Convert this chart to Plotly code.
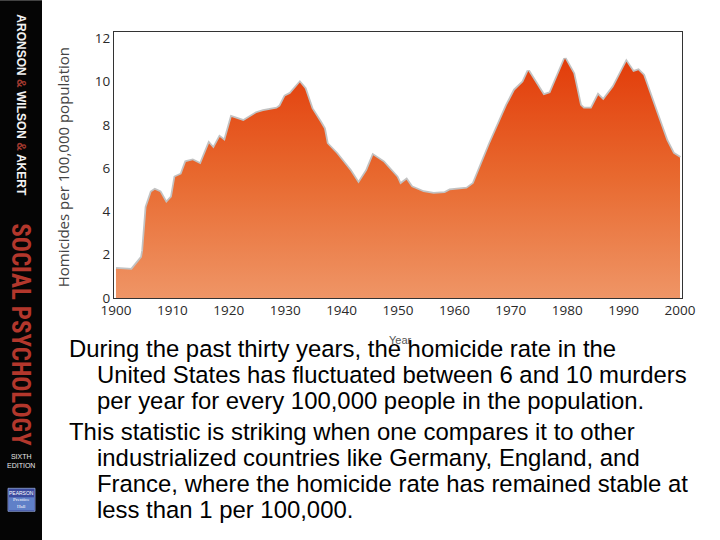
import plotly.graph_objects as go

# ---- data ----
years = [1900, 1902.8, 1904.6, 1904.8, 1905.4, 1906.3, 1906.9, 1907.8, 1908.9, 1909.9,
         1910.5, 1911.6, 1912.4, 1913.6, 1915.0, 1916.5, 1917.3, 1918.4, 1919.3, 1920.5,
         1922.6, 1924.9, 1926.1, 1928.5, 1929.1, 1930.0, 1930.9, 1931.7, 1932.6, 1933.5,
         1934.7, 1936.2, 1936.9, 1937.4, 1939.1, 1941.5, 1943.0, 1944.5, 1945.6, 1947.4,
         1949.8, 1950.4, 1951.5, 1952.4, 1954.5, 1956.3, 1958.3, 1959.2, 1962.2, 1963.4,
         1966.3, 1969.3, 1970.7, 1972.2, 1973.1, 1975.8, 1977.0, 1979.6, 1981.1, 1982.3,
         1982.9, 1984.3, 1985.5, 1986.4, 1988.2, 1990.5, 1991.7, 1992.6, 1993.5, 1995.9,
         1997.6, 1998.8, 2000]
rates = [1.35, 1.31, 1.89, 2.2, 4.2, 4.90, 5.01, 4.90, 4.39, 4.67,
         5.59, 5.72, 6.29, 6.37, 6.18, 7.14, 6.91, 7.44, 7.26, 8.37,
         8.19, 8.55, 8.65, 8.76, 8.87, 9.33, 9.45, 9.68, 9.96, 9.68,
         8.76, 8.14, 7.83, 7.14, 6.68, 5.90, 5.29, 5.90, 6.60, 6.29,
         5.59, 5.25, 5.47, 5.13, 4.90, 4.82, 4.85, 4.98, 5.06, 5.29,
         7.14, 8.91, 9.61, 9.99, 10.50, 9.38, 9.48, 11.07, 10.38, 8.91,
         8.76, 8.76, 9.38, 9.14, 9.76, 10.92, 10.45, 10.53, 10.30, 8.53,
         7.29, 6.68, 6.49]
x_ticks = [1900, 1910, 1920, 1930, 1940, 1950, 1960, 1970, 1980, 1990, 2000]
y_ticks = [0, 2, 4, 6, 8, 10, 12]

body_lines = [
    ("During the past thirty years, the homicide rate in the", False),
    ("United States has fluctuated between 6 and 10 murders", True),
    ("per year for every 100,000 people in the population.", True),
    ("This statistic is striking when one compares it to other", False),
    ("industrialized countries like Germany, England, and", True),
    ("France, where the homicide rate has remained stable at", True),
    ("less than 1 per 100,000.", True),
]

# ---- layout geometry (pixels) ----
W, H = 720, 540
L, R, T, B = 114, 682, 31.7, 297.7
PW, PH = R - L, B - T


def px(x):
    return (x - L) / PW


def py(y):
    return (B - y) / PH


fig = go.Figure()

# soft shadow along the top edge
fig.add_trace(go.Scatter(
    x=years, y=rates, mode="lines",
    line=dict(color="rgba(80,80,80,0.35)", width=3.5),
    hoverinfo="skip", showlegend=False))

fig.add_trace(go.Scatter(
    x=years, y=rates, mode="lines", fill="tozeroy",
    line=dict(width=0, color="rgba(0,0,0,0)"),
    fillgradient=dict(type="vertical", start=0, stop=11.2,
                      colorscale=[[0, "#EF9566"], [0.5, "#E8692F"], [1, "#E23B09"]]),
    showlegend=False))

tickfont = dict(family="Open Sans, Noto Sans, sans-serif", size=13.5, color="#2a2a2a")
fig.update_xaxes(range=[1899.65, 2000.35], tickvals=x_ticks, showgrid=False, zeroline=False,
                 showline=True, linecolor="#333333", linewidth=1.2, mirror=True,
                 ticks="", tickfont=tickfont)
fig.update_yaxes(range=[0, 12.3], tickvals=y_ticks, showgrid=False, zeroline=False,
                 showline=True, linecolor="#333333", linewidth=1.2, mirror=True,
                 ticks="", tickfont=tickfont)

shapes = []
# dark sidebar
shapes.append(dict(type="rect", xref="paper", yref="paper", layer="below",
                   x0=px(0), x1=px(42), y0=py(0), y1=py(H),
                   fillcolor="#050505", line=dict(width=0)))
# Pearson logo
shapes.append(dict(type="rect", xref="paper", yref="paper",
                   x0=px(8), x1=px(35), y0=py(511), y1=py(488),
                   fillcolor="#3c4a9e", line=dict(color="#8fa6d8", width=0.8)))
shapes.append(dict(type="rect", xref="paper", yref="paper",
                   x0=px(9), x1=px(34), y0=py(510), y1=py(497),
                   fillcolor="#5f80c8", line=dict(width=0)))

annotations = []
# axis titles
annotations.append(dict(text="Homicides per 100,000 population", textangle=-90,
                        xref="paper", yref="paper", x=px(63), y=py(167),
                        showarrow=False, xanchor="center", yanchor="middle",
                        font=dict(family="Open Sans, Noto Sans, sans-serif", size=15, color="#444444")))
annotations.append(dict(text="Year", xref="paper", yref="paper", x=px(400), y=py(340),
                        showarrow=False, xanchor="center", yanchor="middle",
                        font=dict(family="Liberation Sans, Arial, sans-serif", size=11, color="#555555")))

# body text
ycur = 348
for i, (line, indent) in enumerate(body_lines):
    if i > 0:
        ycur += 26 if indent else 31
    annotations.append(dict(text=line, xref="paper", yref="paper",
                            x=px(95 if indent else 67), y=py(ycur),
                            showarrow=False, xanchor="left", yanchor="middle",
                            font=dict(family="Liberation Sans, Arial, sans-serif", size=23.9, color="#000000")))

# sidebar texts
annotations.append(dict(
    text="ARONSON <span style='color:#a33a30'>&amp;</span> WILSON <span style='color:#a33a30'>&amp;</span> AKERT",
    textangle=90, xref="paper", yref="paper", x=px(21), y=py(105),
    showarrow=False, xanchor="center", yanchor="middle",
    font=dict(family="Liberation Sans, Arial, sans-serif", size=12, color="#f2f2f2", weight="bold")))
annotations.append(dict(
    text="SOCIAL PSYCHOLOGY", textangle=90, xref="paper", yref="paper", x=px(21), y=py(334),
    showarrow=False, xanchor="center", yanchor="middle",
    font=dict(family="Liberation Sans Narrow, Roboto Condensed, Liberation Sans, sans-serif",
              size=25, color="#b3372c", weight="bold")))
annotations.append(dict(
    text="SIXTH<br>EDITION", xref="paper", yref="paper", x=px(21), y=py(461),
    showarrow=False, xanchor="center", yanchor="middle",
    font=dict(family="Liberation Sans Narrow, Liberation Sans, sans-serif", size=7, color="#e8e8e8")))
annotations.append(dict(
    text="PEARSON", xref="paper", yref="paper", x=px(21.5), y=py(492.5),
    showarrow=False, xanchor="center", yanchor="middle",
    font=dict(family="Liberation Sans, sans-serif", size=5, color="#ffffff")))
annotations.append(dict(
    text="Prentice<br>Hall", xref="paper", yref="paper", x=px(21.5), y=py(503),
    showarrow=False, xanchor="center", yanchor="middle",
    font=dict(family="Liberation Serif, serif", size=5, color="#ffffff")))

fig.update_layout(
    width=W, height=H,
    margin=dict(l=L, r=W - R, t=T, b=H - B, pad=0),
    paper_bgcolor="white", plot_bgcolor="white",
    shapes=shapes, annotations=annotations, showlegend=False)

fig.write_html("out.html", config={"displayModeBar": False},
               post_script="document.body.style.margin='0';document.body.style.padding='0';")
